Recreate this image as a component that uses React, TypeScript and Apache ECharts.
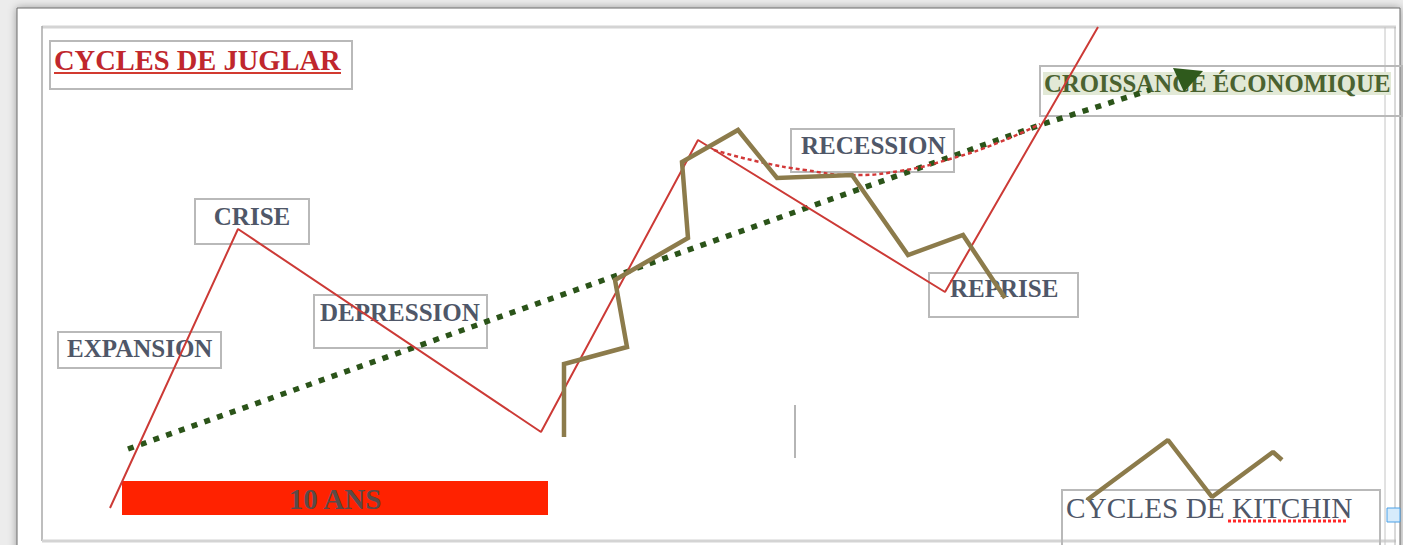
import React, { useEffect, useRef } from "react";
import * as echarts from "echarts";

// Juglar cycle (red line)
const juglarX = [110, 238, 541, 698, 945, 1098];
const juglarY = [508, 229, 432, 140, 292, 27];
// Recession arc (red dotted)
const recessionX = [714, 760, 805, 850, 900, 950, 1000, 1040];
const recessionY = [150, 162, 170, 175, 171, 159, 142, 124];
// Long-term growth trend (green dotted)
const trendX = [128, 1040, 1150];
const trendY = [449, 125, 90];
// Kitchin cycle (olive)
const kitchinX = [564, 564, 627, 615, 688, 682, 738, 777, 852, 908, 963, 1005];
const kitchinY = [437, 364, 347, 280, 238, 162, 130, 178, 175, 255, 235, 298];
// Kitchin legend sample
const kitchinLegX = [1087, 1168, 1212, 1273, 1282];
const kitchinLegY = [500, 440, 497, 452, 460];

const labels = ["CYCLES DE JUGLAR", "CRISE", "EXPANSION", "DEPRESSION", "RECESSION", "REPRISE", "CROISSANCE ÉCONOMIQUE", "CYCLES DE KITCHIN", "10 ANS"];

const pairs = (xs: number[], ys: number[]) => xs.map((x, i) => [x, ys[i]]);

export default function App() {
  const ref = useRef<HTMLDivElement>(null);
  useEffect(() => {
    const chart = echarts.init(ref.current!, null, { renderer: "svg" });
    const serif = "'Liberation Serif', 'DejaVu Serif', serif";
    const labelColor = "#4f5768";
    const box = (x: number, y: number, w: number, h: number) => ({
      type: "rect",
      shape: { x, y, width: w, height: h },
      style: { fill: "none", stroke: "#b9b9b9", lineWidth: 2 },
      z: 1,
      silent: true,
    });
    const txt = (text: string, x: number, y: number, opts: any = {}) => ({
      type: "text",
      x,
      y,
      z: 2,
      silent: true,
      style: {
        text,
        fill: opts.fill || labelColor,
        font: `${opts.weight || "bold"} ${opts.size || 25}px ${serif}`,
        textAlign: opts.align || "left",
        textVerticalAlign: "middle",
      },
    });
    chart.setOption({
      animation: false,
      backgroundColor: "#ececec",
      grid: { left: 0, top: 0, right: 0, bottom: 0 },
      xAxis: { type: "value", min: 0, max: 1403, show: false },
      yAxis: { type: "value", min: 0, max: 545, inverse: true, show: false },
      graphic: [
        // outer page frame
        {
          type: "rect",
          shape: { x: 17, y: 8, width: 1383, height: 560 },
          style: { fill: "#ffffff", stroke: "#6a6a6a", lineWidth: 1, shadowBlur: 8, shadowColor: "rgba(0,0,0,0.35)" },
          z: 0,
          silent: true,
        },
        // inner frame
        { type: "line", shape: { x1: 42, y1: 27, x2: 1396, y2: 27 }, style: { stroke: "#d4d4d4", lineWidth: 3 }, z: 1, silent: true },
        { type: "line", shape: { x1: 42, y1: 26, x2: 42, y2: 541 }, style: { stroke: "#a8a8a8", lineWidth: 1.5 }, z: 1, silent: true },
        { type: "line", shape: { x1: 42, y1: 541, x2: 1396, y2: 541 }, style: { stroke: "#d4d4d4", lineWidth: 3 }, z: 1, silent: true },
        { type: "line", shape: { x1: 1385, y1: 27, x2: 1385, y2: 545 }, style: { stroke: "#c4c4c4", lineWidth: 1 }, z: 1, silent: true },
        { type: "line", shape: { x1: 1395, y1: 27, x2: 1395, y2: 545 }, style: { stroke: "#b4b4b4", lineWidth: 1 }, z: 1, silent: true },
        // title
        box(50, 41, 302, 48),
        txt(labels[0], 54, 60, { fill: "#c0272d", size: 28.5 }),
        { type: "line", shape: { x1: 54, y1: 73, x2: 341, y2: 73 }, style: { stroke: "#d23a30", lineWidth: 2 }, z: 2, silent: true },
        // labels
        box(195, 199, 114, 45),
        txt(labels[1], 252, 216, { align: "center" }),
        box(58, 332, 163, 36),
        txt(labels[2], 67, 348),
        box(314, 295, 173, 53),
        txt(labels[3], 320, 312),
        box(791, 129, 163, 43),
        txt(labels[4], 801, 145),
        box(929, 273, 149, 44),
        txt(labels[5], 950, 288),
        box(1040, 66, 362, 50),
        { type: "rect", shape: { x: 1043, y: 72, width: 348, height: 23 }, style: { fill: "#e2e9d6" }, z: 1, silent: true },
        txt(labels[6], 1044, 83, { fill: "#4a6230", size: 24.8 }),
        box(1062, 490, 318, 60),
        txt(labels[7], 1066, 508, { weight: "normal", size: 29.3 }),
        { type: "line", shape: { x1: 1228, y1: 521, x2: 1346, y2: 521 }, style: { stroke: "#ff2a2a", lineWidth: 3, lineDash: [3, 2] }, z: 2, silent: true },
        // 10 ans bar
        { type: "rect", shape: { x: 122, y: 481, width: 426, height: 34 }, style: { fill: "#ff2200" }, z: 1, silent: true },
        txt(labels[8], 335, 499, { align: "center", size: 29, fill: "#5a4b48" }),
        // grey vertical tick
        { type: "line", shape: { x1: 795, y1: 405, x2: 795, y2: 458 }, style: { stroke: "#9c9c9c", lineWidth: 1.5 }, z: 1, silent: true },
        // green arrowhead
        { type: "polygon", shape: { points: [[1173, 68], [1203, 71], [1184, 92]] }, style: { fill: "#2f5a1c" }, z: 5, silent: true },
        // small blue handle
        { type: "rect", shape: { x: 1387, y: 508, width: 13, height: 14 }, style: { fill: "#d6ebfb", stroke: "#4aa0e6", lineWidth: 1 }, z: 2, silent: true },
      ],
      series: [
        {
          type: "line",
          data: pairs(trendX, trendY),
          showSymbol: false,
          lineStyle: { color: "#2b5419", width: 5.5, type: [6, 7.5], cap: "butt" },
          z: 3,
        },
        {
          type: "line",
          data: pairs(recessionX, recessionY),
          smooth: true,
          showSymbol: false,
          lineStyle: { color: "#d23838", width: 2.5, type: [4, 3] },
          z: 3,
        },
        {
          type: "line",
          data: pairs(juglarX, juglarY),
          showSymbol: false,
          lineStyle: { color: "#cc3a36", width: 2 },
          z: 4,
        },
        {
          type: "line",
          data: pairs(kitchinX, kitchinY),
          showSymbol: false,
          lineStyle: { color: "#8c7b4b", width: 4.5, join: "miter" },
          z: 4,
        },
        {
          type: "line",
          data: pairs(kitchinLegX, kitchinLegY),
          showSymbol: false,
          lineStyle: { color: "#8c7b4b", width: 4.5 },
          z: 4,
        },
      ],
    });
    return () => chart.dispose();
  }, []);
  return <div ref={ref} style={{ position: "fixed", left: 0, top: 0, width: 1403, height: 545 }} />;
}
